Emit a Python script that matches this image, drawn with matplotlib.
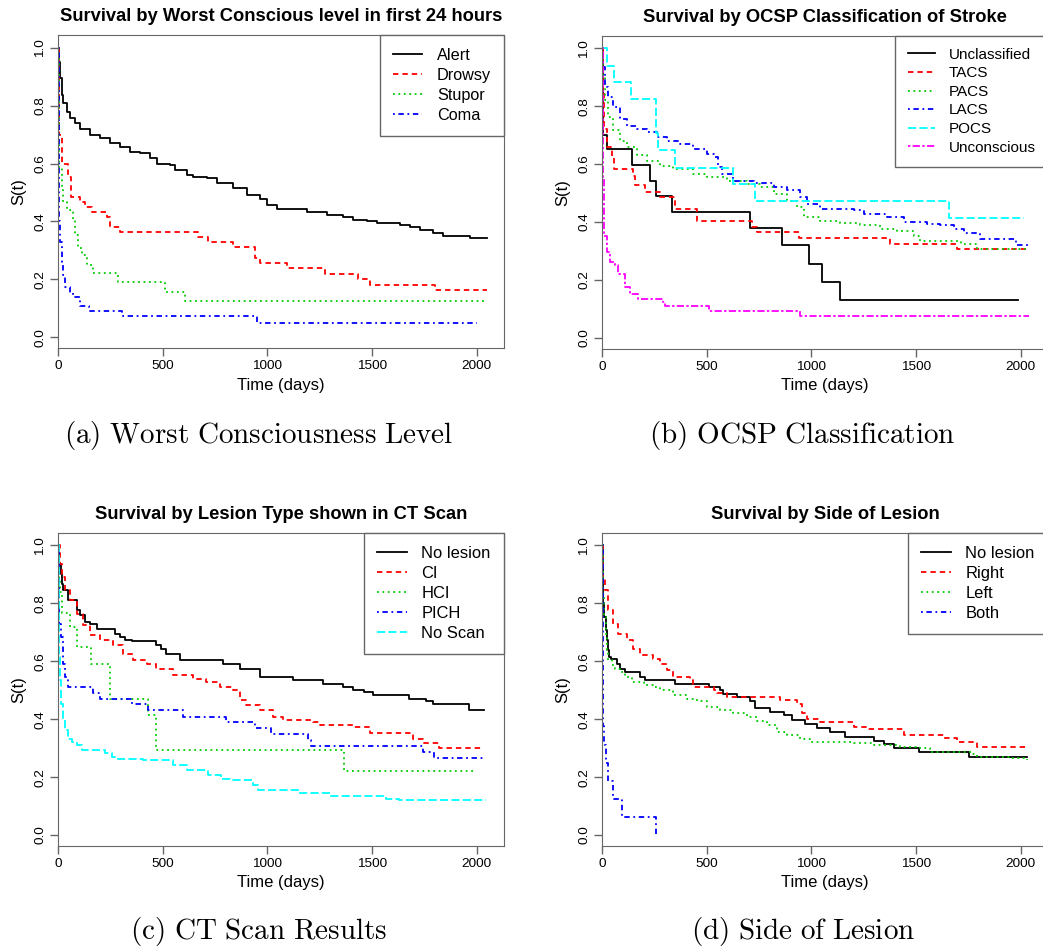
import numpy as np
import matplotlib.pyplot as plt

plt.rcParams['font.family'] = ['Liberation Sans', 'DejaVu Sans']
plt.rcParams['mathtext.fontset'] = 'cm'

# ---- (a) worst conscious level ----
alert_t = [0, 3, 8, 16, 24, 40, 56, 80, 104, 151, 199, 247, 295, 343, 390, 438, 470, 534, 560, 614, 645, 709, 757, 837, 900, 964, 996, 1044, 1139, 1187, 1283, 1363, 1410, 1474, 1522, 1633, 1681, 1729, 1793, 1841, 1968, 2048]
alert_s = [1.0, 0.95, 0.894, 0.837, 0.808, 0.779, 0.756, 0.739, 0.721, 0.70, 0.687, 0.67, 0.658, 0.641, 0.635, 0.618, 0.60, 0.595, 0.578, 0.56, 0.555, 0.549, 0.532, 0.514, 0.49, 0.478, 0.457, 0.443, 0.442, 0.434, 0.422, 0.417, 0.405, 0.40, 0.394, 0.388, 0.382, 0.37, 0.359, 0.35, 0.342, 0.342]
drowsy_t = [0, 2, 5, 16, 48, 59, 104, 127, 159, 231, 247, 295, 669, 717, 837, 940, 964, 1092, 1275, 1434, 1490, 1801, 2048]
drowsy_s = [1.0, 0.85, 0.70, 0.60, 0.555, 0.486, 0.468, 0.451, 0.434, 0.417, 0.382, 0.365, 0.347, 0.328, 0.311, 0.273, 0.255, 0.238, 0.219, 0.201, 0.181, 0.163, 0.163]
stupor_t = [0, 3, 5, 16, 24, 40, 72, 80, 96, 112, 135, 167, 287, 510, 606, 2048]
stupor_s = [1.0, 0.75, 0.583, 0.514, 0.468, 0.44, 0.41, 0.353, 0.307, 0.284, 0.25, 0.221, 0.19, 0.158, 0.125, 0.125]
coma_t = [0, 2, 4, 8, 16, 24, 32, 56, 72, 105, 148, 303, 948, 2000]
coma_s = [1.0, 0.6, 0.40, 0.33, 0.261, 0.215, 0.175, 0.152, 0.138, 0.109, 0.091, 0.072, 0.051, 0.051]

# ---- (b) OCSP classification ----
uncl_t = [0, 3, 5, 21, 144, 228, 255, 335, 707, 859, 986, 1050, 1138, 1987]
uncl_s = [1.0, 0.85, 0.70, 0.652, 0.597, 0.543, 0.489, 0.434, 0.38, 0.319, 0.255, 0.192, 0.129, 0.129]
tacs_t = [0, 3, 8, 24, 45, 56, 145, 156, 204, 276, 348, 452, 715, 739, 939, 1374, 1694, 2040]
tacs_s = [1.0, 0.85, 0.72, 0.658, 0.624, 0.583, 0.56, 0.526, 0.503, 0.486, 0.445, 0.405, 0.382, 0.365, 0.344, 0.324, 0.305, 0.305]
pacs_t = [0, 2, 5, 13, 29, 53, 85, 117, 164, 212, 276, 340, 436, 500, 595, 691, 755, 819, 883, 931, 963, 1042, 1138, 1234, 1330, 1409, 1489, 1521, 1713, 1793, 2040]
pacs_s = [1.0, 0.93, 0.90, 0.82, 0.762, 0.716, 0.681, 0.658, 0.63, 0.612, 0.595, 0.583, 0.566, 0.555, 0.543, 0.532, 0.52, 0.497, 0.474, 0.451, 0.417, 0.405, 0.397, 0.391, 0.376, 0.37, 0.353, 0.336, 0.324, 0.307, 0.307]
lacs_t = [0, 2, 5, 13, 29, 53, 85, 117, 164, 212, 260, 308, 372, 436, 500, 532, 555, 571, 627, 723, 819, 883, 947, 978, 1042, 1202, 1250, 1362, 1441, 1553, 1617, 1681, 1729, 1808, 1976, 2048]
lacs_s = [1.0, 0.96, 0.934, 0.865, 0.831, 0.796, 0.756, 0.733, 0.722, 0.71, 0.693, 0.681, 0.67, 0.652, 0.635, 0.624, 0.589, 0.566, 0.543, 0.534, 0.52, 0.509, 0.486, 0.463, 0.445, 0.44, 0.428, 0.417, 0.399, 0.394, 0.388, 0.376, 0.362, 0.342, 0.319, 0.319]
pocs_t = [0, 24, 56, 136, 255, 268, 348, 624, 728, 1657, 2016]
pocs_s = [1.0, 0.94, 0.882, 0.824, 0.706, 0.647, 0.588, 0.53, 0.471, 0.412, 0.412]
uncon_t = [0, 2, 4, 7, 10, 21, 37, 61, 77, 109, 132, 172, 292, 300, 508, 947, 2040]
uncon_s = [1.0, 0.75, 0.55, 0.42, 0.353, 0.296, 0.261, 0.25, 0.221, 0.175, 0.152, 0.135, 0.123, 0.109, 0.094, 0.077, 0.077]

# ---- (c) CT scan ----
nol_t = [0, 5, 11, 16, 24, 48, 88, 103, 127, 151, 183, 270, 294, 318, 350, 469, 493, 517, 581, 788, 867, 963, 1122, 1265, 1360, 1408, 1464, 1504, 1679, 1758, 1790, 1965, 2037]
nol_s = [1.0, 0.937, 0.902, 0.868, 0.845, 0.81, 0.776, 0.759, 0.736, 0.728, 0.713, 0.695, 0.684, 0.672, 0.669, 0.655, 0.644, 0.626, 0.603, 0.592, 0.575, 0.546, 0.534, 0.523, 0.511, 0.502, 0.494, 0.483, 0.471, 0.463, 0.454, 0.431, 0.431]
ci_t = [0, 8, 16, 32, 56, 88, 119, 151, 199, 263, 310, 358, 422, 469, 549, 644, 708, 772, 835, 867, 899, 963, 1026, 1074, 1217, 1249, 1408, 1488, 1694, 1742, 1822, 2029]
ci_s = [1.0, 0.937, 0.89, 0.845, 0.81, 0.764, 0.724, 0.69, 0.672, 0.655, 0.626, 0.603, 0.592, 0.575, 0.552, 0.54, 0.529, 0.511, 0.50, 0.466, 0.448, 0.431, 0.408, 0.397, 0.391, 0.379, 0.374, 0.351, 0.333, 0.316, 0.302, 0.302]
hci_t = [0, 3, 8, 16, 56, 88, 155, 245, 430, 465, 1368, 1981]
hci_s = [1.0, 0.885, 0.839, 0.767, 0.718, 0.65, 0.589, 0.471, 0.414, 0.294, 0.221, 0.221]
pich_t = [0, 2, 5, 11, 21, 32, 48, 167, 199, 350, 430, 597, 803, 939, 1018, 1193, 1209, 1742, 1798, 2029]
pich_s = [1.0, 0.80, 0.73, 0.684, 0.59, 0.546, 0.511, 0.489, 0.471, 0.451, 0.431, 0.408, 0.391, 0.368, 0.348, 0.328, 0.307, 0.287, 0.267, 0.267]
noscan_t = [0, 2, 3, 5, 8, 13, 21, 32, 48, 64, 88, 111, 223, 255, 286, 406, 549, 613, 716, 780, 819, 931, 955, 1153, 1297, 1567, 1631, 2044]
noscan_s = [1.0, 0.80, 0.707, 0.615, 0.534, 0.454, 0.397, 0.362, 0.333, 0.322, 0.31, 0.295, 0.282, 0.27, 0.264, 0.259, 0.241, 0.224, 0.207, 0.195, 0.19, 0.172, 0.155, 0.144, 0.134, 0.126, 0.121, 0.121]

# ---- (d) side of lesion ----
dnol_t = [0, 1, 5, 10, 16, 21, 26, 32, 40, 69, 85, 109, 180, 204, 348, 508, 563, 579, 643, 707, 731, 803, 867, 907, 970, 1026, 1090, 1162, 1298, 1346, 1393, 1513, 1753, 2032]
dnol_s = [1.0, 0.88, 0.80, 0.753, 0.707, 0.672, 0.638, 0.615, 0.609, 0.592, 0.575, 0.563, 0.546, 0.534, 0.523, 0.511, 0.50, 0.486, 0.475, 0.463, 0.437, 0.425, 0.414, 0.397, 0.385, 0.368, 0.356, 0.337, 0.325, 0.313, 0.299, 0.287, 0.27, 0.27]
right_t = [0, 2, 5, 13, 29, 53, 77, 117, 148, 180, 244, 276, 308, 340, 420, 436, 532, 547, 595, 851, 931, 955, 978, 1042, 1202, 1266, 1441, 1633, 1697, 1793, 2040]
right_s = [1.0, 0.93, 0.89, 0.845, 0.776, 0.73, 0.695, 0.672, 0.644, 0.621, 0.609, 0.592, 0.569, 0.546, 0.534, 0.511, 0.50, 0.489, 0.477, 0.466, 0.454, 0.42, 0.402, 0.391, 0.374, 0.366, 0.347, 0.336, 0.322, 0.305, 0.305]
left_t = [0, 2, 5, 10, 16, 21, 29, 45, 61, 85, 109, 140, 200, 244, 276, 340, 404, 452, 500, 563, 627, 691, 739, 787, 835, 883, 947, 994, 1202, 1298, 1425, 1521, 1569, 1761, 1793, 1950, 2032]
left_s = [1.0, 0.90, 0.822, 0.753, 0.695, 0.638, 0.603, 0.586, 0.575, 0.563, 0.546, 0.529, 0.517, 0.511, 0.50, 0.483, 0.471, 0.462, 0.443, 0.431, 0.42, 0.408, 0.394, 0.379, 0.356, 0.345, 0.333, 0.322, 0.316, 0.31, 0.305, 0.299, 0.287, 0.279, 0.27, 0.265, 0.259]
both_t = [0, 3, 5, 10, 16, 28, 53, 96, 257]
both_s = [1.0, 0.5, 0.375, 0.3125, 0.25, 0.1875, 0.125, 0.0625, 0.0]

# R-like colours and line types
col = {'black': 'black', 'red': '#FF0000', 'green': '#00CD00', 'blue': '#0000FF',
       'cyan': '#00FFFF', 'magenta': '#FF00FF'}
lty = {1: '-', 2: (0, (3, 2.2)), 3: (0, (1, 2)), 4: (0, (1, 2, 3, 2)),
       5: (0, (4.5, 1.8)), 6: (0, (1.3, 1.3, 4, 1.3))}

W, H = 1043, 951
fig = plt.figure(figsize=(W / 100, H / 100), dpi=100)

def make_ax(left, top, title, series, legfs):
    ax = fig.add_axes([left / W, 1 - (top + 313.3) / H, 445.7 / W, 313.3 / H])
    for t, s, c, l, lab in series:
        ax.plot(t, s, drawstyle='steps-post', color=col[c], linestyle=lty[l], lw=1.3, label=lab)
    ax.set_xlim(0, 2131)
    ax.set_ylim(-0.038, 1.044)
    ax.set_xticks([0, 500, 1000, 1500, 2000])
    ax.set_yticks([0, 0.2, 0.4, 0.6, 0.8, 1.0])
    ax.set_yticklabels(['0.0', '0.2', '0.4', '0.6', '0.8', '1.0'], rotation=90, va='center')
    ax.tick_params(length=6, width=1, color='#666666', labelsize=9.7, pad=2.5)
    for sp in ax.spines.values():
        sp.set_color('#666666')
    ax.set_xlabel('Time (days)', fontsize=12, labelpad=4)
    ax.set_ylabel('S(t)', fontsize=12, labelpad=6)
    ax.set_title(title, fontsize=13.2, fontweight='bold', pad=10)
    leg = ax.legend(loc='upper right', bbox_to_anchor=(1, 1), borderaxespad=0, fontsize=legfs,
                    fancybox=False, framealpha=1, edgecolor='#666666', handlelength=1.8,
                    handletextpad=0.9, labelspacing=0.3, borderpad=0.8)
    leg.get_frame().set_linewidth(1)
    return ax

make_ax(58.3, 35, 'Survival by Worst Conscious level in first 24 hours', [
    (alert_t, alert_s, 'black', 1, 'Alert'),
    (drowsy_t, drowsy_s, 'red', 2, 'Drowsy'),
    (stupor_t, stupor_s, 'green', 3, 'Stupor'),
    (coma_t, coma_s, 'blue', 4, 'Coma')], 11.7)

make_ax(602.3, 35.5, 'Survival by OCSP Classification of Stroke', [
    (uncl_t, uncl_s, 'black', 1, 'Unclassified'),
    (tacs_t, tacs_s, 'red', 2, 'TACS'),
    (pacs_t, pacs_s, 'green', 3, 'PACS'),
    (lacs_t, lacs_s, 'blue', 4, 'LACS'),
    (pocs_t, pocs_s, 'cyan', 5, 'POCS'),
    (uncon_t, uncon_s, 'magenta', 6, 'Unconscious')], 11)

make_ax(58.3, 532.7, 'Survival by Lesion Type shown in CT Scan', [
    (nol_t, nol_s, 'black', 1, 'No lesion'),
    (ci_t, ci_s, 'red', 2, 'CI'),
    (hci_t, hci_s, 'green', 3, 'HCI'),
    (pich_t, pich_s, 'blue', 4, 'PICH'),
    (noscan_t, noscan_s, 'cyan', 5, 'No Scan')], 11.9)

make_ax(602.3, 532.7, 'Survival by Side of Lesion', [
    (dnol_t, dnol_s, 'black', 1, 'No lesion'),
    (right_t, right_s, 'red', 2, 'Right'),
    (left_t, left_s, 'green', 3, 'Left'),
    (both_t, both_s, 'blue', 4, 'Both')], 11.9)

captions = [(259, 435, '(a)\\ Worst\\ Consciousness\\ Level'),
            (802.5, 435, '(b)\\ OCSP\\ Classification'),
            (259, 932, '(c)\\ CT\\ Scan\\ Results'),
            (803, 932, '(d)\\ Side\\ of\\ Lesion')]
for x, y, txt in captions:
    fig.text(x / W, 1 - y / H, '$\\mathrm{' + txt + '}$', fontsize=21, ha='center', va='center')

fig.savefig('out.png', dpi=100)
